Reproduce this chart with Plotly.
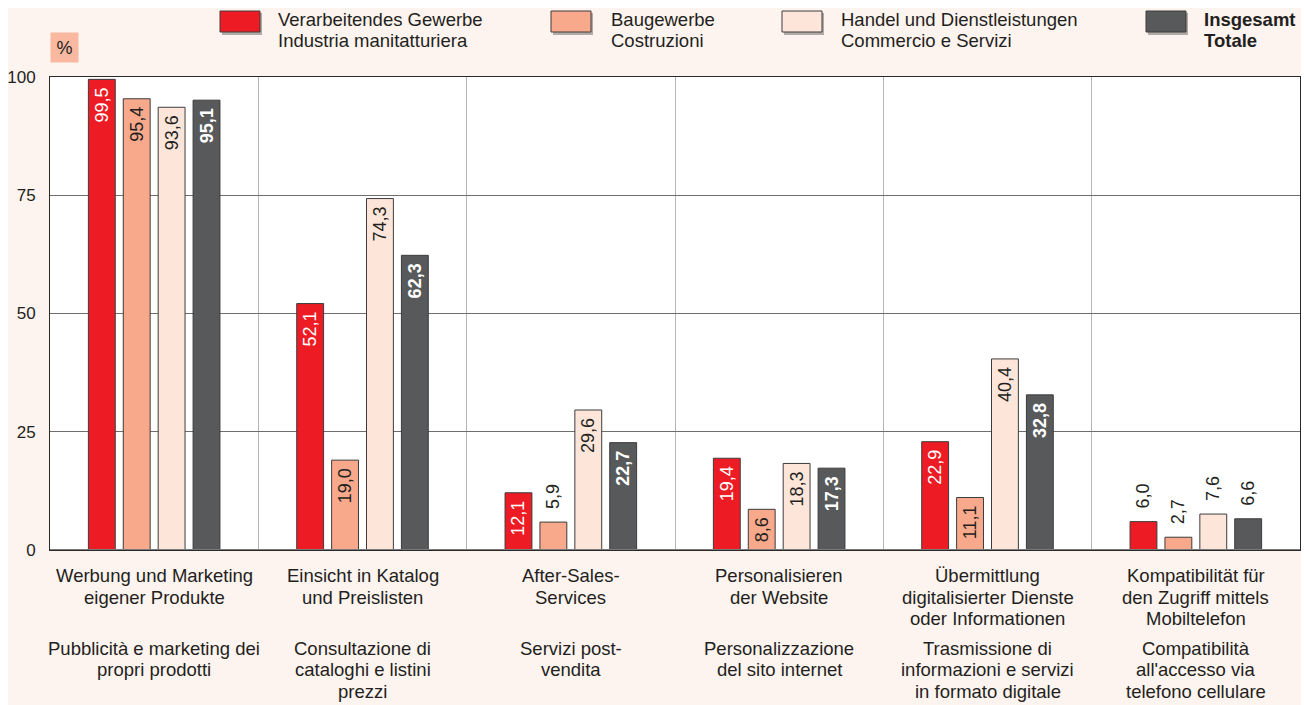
import plotly.graph_objects as go

categories = ["Werbung", "Katalog", "AfterSales", "Website", "Digital", "Mobil"]
german_labels = [
    "Werbung und Marketing<br>eigener Produkte",
    "Einsicht in Katalog<br>und Preislisten",
    "After-Sales-<br>Services",
    "Personalisieren<br>der Website",
    "Übermittlung<br>digitalisierter Dienste<br>oder Informationen",
    "Kompatibilität für<br>den Zugriff mittels<br>Mobiltelefon",
]
italian_labels = [
    "Pubblicità e marketing dei<br>propri prodotti",
    "Consultazione di<br>cataloghi e listini<br>prezzi",
    "Servizi post-<br>vendita",
    "Personalizzazione<br>del sito internet",
    "Trasmissione di<br>informazioni e servizi<br>in formato digitale",
    "Compatibilità<br>all'accesso via<br>telefono cellulare",
]
series_names = [
    "Verarbeitendes Gewerbe<br>Industria manitatturiera",
    "Baugewerbe<br>Costruzioni",
    "Handel und Dienstleistungen<br>Commercio e Servizi",
    "<b>Insgesamt</b><br><b>Totale</b>",
]
manifattura = [99.5, 52.1, 12.1, 19.4, 22.9, 6.0]
costruzioni = [95.4, 19.0, 5.9, 8.6, 11.1, 2.7]
commercio = [93.6, 74.3, 29.6, 18.3, 40.4, 7.6]
totale = [95.1, 62.3, 22.7, 17.3, 32.8, 6.6]
y_ticks = [0, 25, 50, 75, 100]

series_values = [manifattura, costruzioni, commercio, totale]
colors = ["#ed1c24", "#f9a98b", "#fde5da", "#58595b"]
inside_text_colors = ["white", "#231f20", "#231f20", "white"]
bold = [False, False, False, True]

FONT = "Arial, Liberation Sans, sans-serif"
BG = "#fdf3ef"
TXT = "#231f20"
NB = "\u00a0"

# page body has an 8px margin: work in screen pixels and convert
OFF = 8
W, H = 1309 - OFF, 705 - OFF
L, R, T, B = 50 - OFF, 1300 - OFF, 77 - OFF, 550 - OFF

fig = go.Figure()
for vals, col, tcol, b, name in zip(series_values, colors, inside_text_colors, bold, series_names):
    base = [f"{v:.1f}".replace(".", ",") for v in vals]
    pos = ["inside" if v >= 8 else "outside" for v in vals]
    txt = []
    for t, p in zip(base, pos):
        if p == "inside":
            txt.append((f"<b>{t}</b>" if b else t) + NB)
        else:
            txt.append(NB * 2 + t)
    fig.add_trace(go.Bar(
        x=categories, y=vals, name=name.replace("<br>", " "), text=txt, textposition=pos,
        textangle=-90, insidetextanchor="end", constraintext="none",
        insidetextfont=dict(color=tcol, size=18, family=FONT),
        outsidetextfont=dict(color=TXT, size=18, family=FONT),
        marker=dict(color=col, line=dict(color="#3c3c3c", width=1)),
        showlegend=False, cliponaxis=False,
    ))


def px(x):
    return (x - OFF - L) / (R - L)


def py(y):
    return (B - (y - OFF)) / (B - T)


LBL = dict(size=18.5, color=TXT, family=FONT)
LINE = 21.5
annotations = []
for c, g, i in zip(categories, german_labels, italian_labels):
    for k, line in enumerate(g.split("<br>")):
        annotations.append(dict(x=c, y=0, xref="x", yref="paper", yanchor="middle",
                                yshift=-(575.5 - 550 + k * LINE), text=line,
                                showarrow=False, font=LBL))
    for k, line in enumerate(i.split("<br>")):
        annotations.append(dict(x=c, y=0, xref="x", yref="paper", yanchor="middle",
                                yshift=-(648 - 550 + k * LINE), text=line,
                                showarrow=False, font=LBL))

shapes = []
legend_sq = [220, 551, 782, 1146]
legend_tx = [276, 609, 839, 1202]
for sx, tx, col, name in zip(legend_sq, legend_tx, colors, series_names):
    shapes.append(dict(type="rect", xref="paper", yref="paper",
                       x0=px(sx + 2), x1=px(sx + 42), y0=py(35), y1=py(13),
                       fillcolor="#b3aaa6", line=dict(width=0), layer="above"))
    shapes.append(dict(type="rect", xref="paper", yref="paper",
                       x0=px(sx), x1=px(sx + 40), y0=py(32), y1=py(11),
                       fillcolor=col, line=dict(color="#3c3c3c", width=1), layer="above"))
    for k, line in enumerate(name.split("<br>")):
        annotations.append(dict(x=px(tx), y=py(20 + k * 20.5), xref="paper", yref="paper",
                                xanchor="left", yanchor="middle", align="left", text=line,
                                showarrow=False, font=LBL))

annotations.append(dict(x=px(50), y=py(32), xref="paper", yref="paper", xanchor="left", yanchor="top",
                        text="%", showarrow=False, bgcolor="#f9b9a0", width=21, height=23, borderpad=3,
                        font=dict(size=18, color=TXT, family=FONT)))

fig.update_layout(
    width=W, height=H,
    margin=dict(l=L, r=W - R, t=T, b=H - B, autoexpand=False),
    paper_bgcolor=BG, plot_bgcolor="white",
    barmode="group", bargap=0.33, bargroupgap=0.23,
    font=dict(family=FONT, size=18, color=TXT),
    annotations=annotations, shapes=shapes,
    xaxis=dict(showticklabels=False, showgrid=True, gridcolor="#b5b5b5", gridwidth=1,
               tickson="boundaries", ticks="", range=[-0.5, 5.5], automargin=False,
               showline=True, linecolor="#2a2a2a", linewidth=1, mirror=True, zeroline=False),
    yaxis=dict(range=[0, 100], tickvals=y_ticks, showgrid=True, gridcolor="#6e6e6e", gridwidth=1,
               tickfont=dict(size=17, family=FONT, color=TXT), ticks="", ticklabelstandoff=10,
               automargin=False,
               showline=True, linecolor="#2a2a2a", linewidth=1, mirror=True, zeroline=False),
)
fig.add_shape(type="line", xref="paper", yref="y", x0=0, x1=1, y0=0, y1=0,
              line=dict(color="#7a7a7a", width=2), layer="above")

fig.write_html("out.html")
